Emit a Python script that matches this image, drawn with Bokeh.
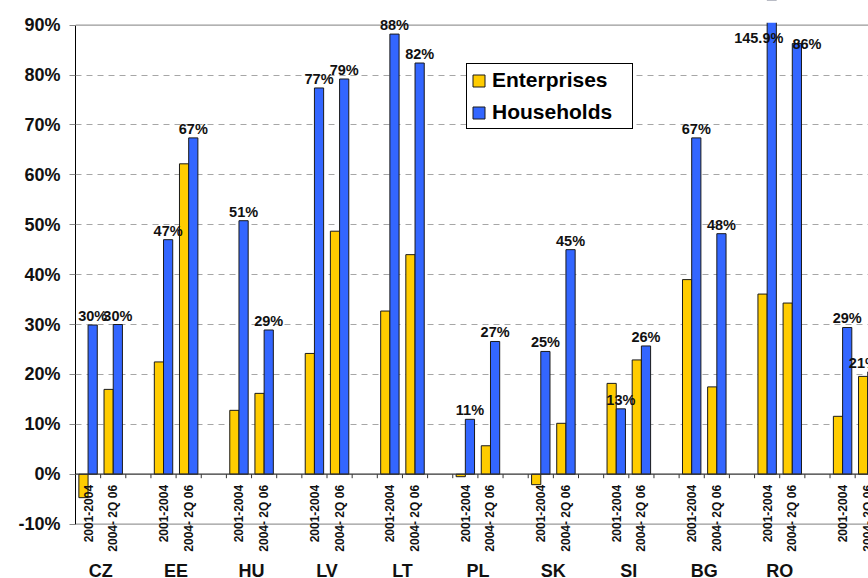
import math
from bokeh.plotting import figure
from bokeh.models import (ColumnDataSource, FixedTicker, Range1d, Legend, LegendItem, Span)
from bokeh.core.properties import value
from bokeh.embed import file_html
from bokeh.resources import INLINE

# ---------------- data ----------------
countries = ["CZ", "EE", "HU", "LV", "LT", "PL", "SK", "SI", "BG", "RO", ""]
periods = ["2001-2004", "2004- 2Q 06"]

enterprises_2001 = [-4.7, 22.5, 12.8, 24.2, 32.7, -0.5, -2.1, 18.2, 39.0, 36.1, 11.6]
enterprises_2004 = [17.0, 62.2, 16.2, 48.7, 44.0, 5.7, 10.2, 22.9, 17.5, 34.3, 19.6]
households_2001 = [29.9, 47.0, 50.8, 77.4, 88.2, 11.0, 24.6, 13.1, 67.4, 145.9, 29.4]
households_2004 = [30.0, 67.4, 28.9, 79.2, 82.4, 26.6, 45.0, 25.7, 48.2, 86.3, 20.5]
households_2001_labels = ["30%", "47%", "51%", "77%", "88%", "11%", "25%", "13%", "67%", "145.9%", "29%"]
households_2004_labels = ["30%", "67%", "29%", "79%", "82%", "27%", "45%", "26%", "48%", "86%", "21%"]

y_ticks = [-10, 0, 10, 20, 30, 40, 50, 60, 70, 80, 90]
y_tick_labels = ["-10%", "0%", "10%", "20%", "30%", "40%", "50%", "60%", "70%", "80%", "90%"]

# ---------------- styling ----------------
FONT = "Liberation Sans"
YELLOW = "#FFCC00"
BLUE = "#3366FF"
EDGE = "#1a1a1a"
SLOTS_PER_COUNTRY = 3
BAR_W = 0.366
Y_MIN, Y_MAX = -20.9, 94.93
VISIBLE_TOP = 90.66

# ---------------- build sources ----------------
ent = dict(x=[], top=[])
hh = dict(x=[], top=[])
lab = dict(x=[], y=[], text=[], dx=[], dy=[])
per = dict(x=[], text=[])
ctry = dict(x=[], text=[])

ent_series = [enterprises_2001, enterprises_2004]
hh_series = [households_2001, households_2004]
hh_labels = [households_2001_labels, households_2004_labels]

for i, c in enumerate(countries):
    for j in range(2):
        s = SLOTS_PER_COUNTRY * i + j
        centre = s + 0.5
        ent["x"].append(centre - BAR_W / 2)
        ent["top"].append(ent_series[j][i])
        hh["x"].append(centre + BAR_W / 2)
        v = hh_series[j][i]
        hh["top"].append(v)
        per["x"].append(centre)
        per["text"].append(periods[j])
        dx, dy = 0, -9
        ly = v
        if v > 90:                       # off-scale bar: label just under the top
            ly, dx, dy = 87.5, -13, 0
        elif c == "RO" and j == 1:
            dx, dy = 10, 0
        elif c == "" and j == 1:
            dx = -9
        lab["x"].append(centre + BAR_W / 2)
        lab["y"].append(ly)
        lab["text"].append(hh_labels[j][i])
        lab["dx"].append(dx)
        lab["dy"].append(dy)
    if c:
        ctry["x"].append(SLOTS_PER_COUNTRY * i + 1)
        ctry["text"].append(c)

n_slots = SLOTS_PER_COUNTRY * len(countries)
ticks_x = list(range(1, n_slots))

p = figure(width=868, height=578, output_backend="svg", toolbar_location=None,
           x_range=Range1d(0, 31.53), y_range=Range1d(Y_MIN, Y_MAX),
           x_axis_location=None, min_border_left=75, min_border_right=0,
           min_border_top=0, min_border_bottom=0)
p.outline_line_color = None
p.background_fill_color = "white"
p.border_fill_color = "white"

# grid
p.xgrid.visible = False
p.ygrid.ticker = FixedTicker(ticks=[t for t in y_ticks if t not in (-10, 0, 90)])
p.ygrid.grid_line_color = "#a6a6a6"
p.ygrid.grid_line_dash = "6 5"
p.ygrid.grid_line_width = 1
for loc, col in ((90, "#999999"), (-10, "#999999")):
    p.add_layout(Span(location=loc, dimension="width", line_color=col, line_width=1.3, level="underlay"))

# y axis
yax = p.yaxis[0]
yax.ticker = FixedTicker(ticks=y_ticks)
yax.major_label_overrides = {t: l for t, l in zip(y_ticks, y_tick_labels)}
yax.bounds = (-10, 90)
yax.axis_line_color = "#000000"
yax.axis_line_width = 1
yax.major_tick_out = 6
yax.major_tick_in = 0
yax.major_tick_line_color = "#888888"
yax.minor_tick_line_color = None
yax.major_label_standoff = 9
yax.major_label_text_font = FONT
yax.major_label_text_font_size = "18px"
yax.major_label_text_font_style = "bold"
yax.major_label_text_color = "#111111"

# bars
src_e = ColumnDataSource(ent)
src_h = ColumnDataSource(hh)
r_e = p.vbar(x="x", top="top", bottom=0, width=BAR_W, source=src_e,
             fill_color=YELLOW, line_color=EDGE, line_width=1)
r_h = p.vbar(x="x", top="top", bottom=0, width=BAR_W, source=src_h,
             fill_color=BLUE, line_color=EDGE, line_width=1)

# white mask over the part of the off-scale bar above the chart area
p.quad(left=-5, right=40, bottom=VISIBLE_TOP, top=1000,
       fill_color="white", line_color="white", line_width=2)

# zero line and category ticks
p.add_layout(Span(location=0, dimension="width", line_color="#333333", line_width=1.3))
p.segment(x0=ticks_x, y0=[0] * len(ticks_x), x1=ticks_x, y1=[-0.8] * len(ticks_x),
          line_color="#333333", line_width=1)

# value labels
p.text(x="x", y="y", text="text", x_offset="dx", y_offset="dy", source=ColumnDataSource(lab),
       text_font=value(FONT), text_font_size=value("14.5px"), text_font_style="bold",
       text_align="center", text_baseline="alphabetic", text_color="#111111", level="overlay")

# period labels (rotated)
p.text(x="x", y=-2.15, text="text", source=ColumnDataSource(per), angle=math.pi / 2,
       text_font=value(FONT), text_font_size=value("12px"), text_font_style="bold",
       text_align="right", text_baseline="middle", text_color="#111111", level="overlay")

# country labels
p.text(x="x", y=-19.4, text="text", source=ColumnDataSource(ctry),
       text_font=value(FONT), text_font_size=value("18px"), text_font_style="bold",
       text_align="center", text_baseline="middle", text_color="#111111", level="overlay")

legend = Legend(items=[LegendItem(label="Enterprises", renderers=[r_e]),
                       LegendItem(label="Households", renderers=[r_h])],
                location=(391, 449), orientation="vertical")
legend.border_line_color = "#000000"
legend.border_line_width = 1
legend.border_line_alpha = 1
legend.background_fill_color = "white"
legend.background_fill_alpha = 1
legend.label_text_font = FONT
legend.label_text_font_size = "21px"
legend.label_text_font_style = "bold"
legend.label_text_color = "#000000"
legend.label_width = 136
legend.glyph_width = 15
legend.glyph_height = 15
legend.label_standoff = 6
legend.padding = 4
legend.spacing = 8
legend.margin = 0
p.add_layout(legend)

open("out.html", "w").write(file_html(p, INLINE))
